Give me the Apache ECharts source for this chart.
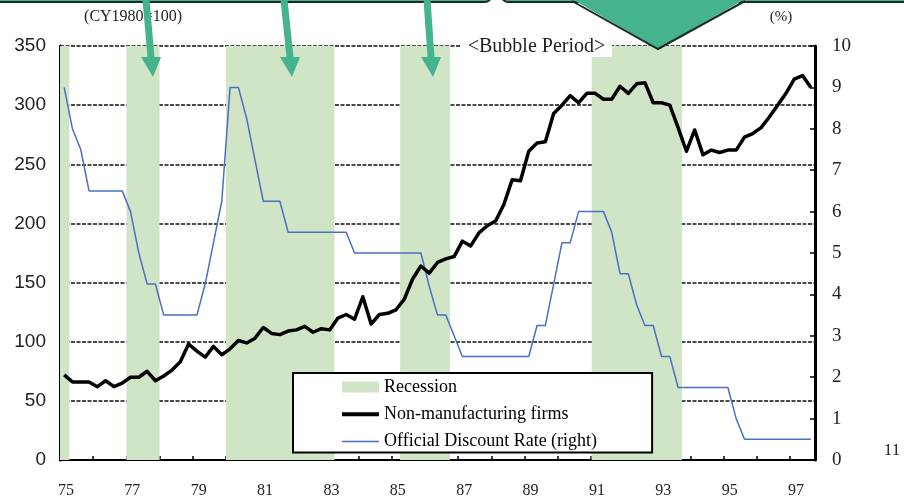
<!DOCTYPE html>
<html>
<head>
<meta charset="utf-8">
<script src="https://cdn.jsdelivr.net/npm/echarts@6/dist/echarts.min.js"></script>
<style>
  html, body { margin: 0; padding: 0; background: #fff; }
  #chart { width: 904px; height: 499px; }
</style>
</head>
<body>
<div id="chart"></div>
<script>
// quarterly data, 1975Q1 .. 1997Q3
var startYear = 1975

// Non-manufacturing firms (CY1980=100)
var nonManufacturing = [
  72, 66, 66, 66, 62, 67, 62, 65, 70, 70,
  75, 67, 71, 76, 83, 98, 92, 87, 96, 89,
  94, 101, 99, 103, 112, 107, 106, 109, 110, 113,
  108, 111, 110, 120, 123, 119, 138, 115, 123, 124,
  127, 136, 153, 164, 158, 167, 170, 172, 185, 181,
  192, 198, 202, 216, 237, 236, 261, 268, 269, 293,
  300, 308, 302, 310, 310, 305, 305, 316, 310, 318,
  319, 302, 302, 300, 281, 261, 279, 258, 262, 260,
  262, 262, 273, 276, 281, 290, 300, 310, 322, 325, 315
]

// Official discount rate (%), right axis
var discountRate = [
  9.0, 8.0, 7.5, 6.5, 6.5, 6.5, 6.5, 6.5, 6.0, 5.0,
  4.25, 4.25, 3.5, 3.5, 3.5, 3.5, 3.5, 4.25, 5.25, 6.25,
  9.0, 9.0, 8.25, 7.25, 6.25, 6.25, 6.25, 5.5, 5.5, 5.5,
  5.5, 5.5, 5.5, 5.5, 5.5, 5.0, 5.0, 5.0, 5.0, 5.0,
  5.0, 5.0, 5.0, 5.0, 4.2, 3.5, 3.5, 3.0, 2.5, 2.5,
  2.5, 2.5, 2.5, 2.5, 2.5, 2.5, 2.5, 3.25, 3.25, 4.25,
  5.25, 5.25, 6.0, 6.0, 6.0, 6.0, 5.5, 4.5, 4.5, 3.75,
  3.25, 3.25, 2.5, 2.5, 1.75, 1.75, 1.75, 1.75, 1.75, 1.75,
  1.75, 1.0, 0.5, 0.5, 0.5, 0.5, 0.5, 0.5, 0.5, 0.5, 0.5
]

// recession periods (decimal years)
var recessions = [
  [1975.0, 1975.28],
  [1977.0, 1978.0],
  [1980.0, 1983.27],
  [1985.25, 1986.75],
  [1991.02, 1993.74]
]

var leftTicks = { min: 0, max: 350, interval: 50 }
var rightTicks = { min: 0, max: 10, interval: 1 }

var bandColor = '#d0e4c6'
var blue = '#4a6fc4'
var teal = '#45b38c'
var serif = 'Liberation Serif'

// quarter midpoints on the year axis
function toPairs(arr) {
  return arr.map(function (v, i) {
    return [startYear + (i + 0.5) / 4, v]
  })
}

function arrow(top, base, tip) {
  return {
    type: 'polygon',
    z: 20,
    shape: {
      points: [
        [top - 3.5, 0], [top + 3.5, 0], [base + 3.5, 57], [base + 10, 57],
        [tip, 77], [base - 10, 57], [base - 3.5, 57]
      ]
    },
    style: { fill: teal }
  }
}

var chart = echarts.init(document.getElementById('chart'))

var option = {
  animation: false,
  grid: { left: 60, right: 89, top: 46, bottom: 38 },
  legend: {
    orient: 'vertical',
    left: 293,
    top: 373,
    padding: [5, 55, 2, 49],
    itemGap: 9.2,
    itemWidth: 37,
    itemHeight: 11,
    borderColor: '#000',
    borderWidth: 2,
    backgroundColor: '#fff',
    textStyle: { fontFamily: serif, fontSize: 18, color: '#000' },
    data: [
      { name: 'Recession', icon: 'rect' },
      { name: 'Non-manufacturing firms', icon: 'path://M0,0H37V4H0Z' },
      { name: 'Official Discount Rate (right)', icon: 'path://M0,0H37V1.5H0Z' }
    ]
  },
  xAxis: {
    type: 'value',
    min: 1975,
    max: 1997.75,
    interval: 1,
    axisLine: { lineStyle: { color: '#000', width: 2 } },
    axisTick: { inside: true, length: 4, lineStyle: { color: '#000', width: 1.5 } },
    axisLabel: {
      formatter: function (v) {
        return v % 2 === 1 ? String(v).slice(2) : ''
      },
      fontFamily: serif,
      fontSize: 16,
      color: '#222',
      margin: 23,
      padding: [0, 0, 0, 12]
    },
    splitLine: { show: false }
  },
  yAxis: [
    {
      type: 'value',
      position: 'left',
      min: leftTicks.min,
      max: leftTicks.max,
      interval: leftTicks.interval,
      axisLine: { show: true, lineStyle: { color: '#000', width: 3 } },
      axisTick: { show: false },
      axisLabel: { fontFamily: 'Liberation Sans', fontSize: 19, color: '#222', margin: 14 },
      splitLine: { show: true, lineStyle: { color: '#111', width: 1.5, type: [4, 1.5] } }
    },
    {
      type: 'value',
      position: 'right',
      min: rightTicks.min,
      max: rightTicks.max,
      interval: rightTicks.interval,
      axisLine: { show: true, lineStyle: { color: '#000', width: 3 } },
      axisTick: { show: true, inside: true, length: 5, lineStyle: { color: '#000', width: 1.5 } },
      axisLabel: { fontFamily: serif, fontSize: 19, color: '#222', margin: 17 },
      splitLine: { show: false }
    }
  ],
  series: [
    {
      name: 'Recession',
      type: 'bar',
      data: [],
      z: 1,
      itemStyle: { color: bandColor },
      markArea: {
        silent: true,
        itemStyle: { color: bandColor, opacity: 1 },
        data: recessions.map(function (r) {
          return [{ xAxis: r[0] }, { xAxis: r[1] }]
        })
      }
    },
    {
      name: 'Official Discount Rate (right)',
      type: 'line',
      yAxisIndex: 1,
      data: toPairs(discountRate),
      symbol: 'none',
      z: 3,
      lineStyle: { color: blue, width: 1.5 },
      itemStyle: { color: blue }
    },
    {
      name: 'Non-manufacturing firms',
      type: 'line',
      yAxisIndex: 0,
      data: toPairs(nonManufacturing),
      symbol: 'none',
      z: 4,
      lineStyle: { color: '#000', width: 3.5, join: 'round' },
      itemStyle: { color: '#000' }
    }
  ],
  graphic: [
    // slide boxes at the top edge
    {
      type: 'rect', z: 15,
      shape: { x: -10, y: -30, width: 501, height: 32, r: 6 },
      style: { fill: teal, stroke: '#1e2a25', lineWidth: 2 }
    },
    {
      type: 'rect', z: 15,
      shape: { x: 502, y: -30, width: 412, height: 32, r: 6 },
      style: { fill: teal, stroke: '#1e2a25', lineWidth: 2 }
    },
    {
      type: 'polygon', z: 16,
      shape: { points: [[572, -1], [745, -1], [658, 49]] },
      style: { fill: teal }
    },
    {
      type: 'polyline', z: 17,
      shape: { points: [[572, 1], [658, 49], [745, 1]] },
      style: { stroke: '#1e2a25', lineWidth: 2, fill: null }
    },
    arrow(146, 151, 153),
    arrow(284, 290, 292),
    arrow(427, 431, 433),
    {
      type: 'text', z: 10, x: 133, y: 17,
      style: { text: '(CY1980=100)', font: '16px "Liberation Serif"', fill: '#222', textAlign: 'center', textVerticalAlign: 'middle' }
    },
    {
      type: 'text', z: 10, x: 781, y: 17,
      style: { text: '(%)', font: '15px "Liberation Serif"', fill: '#222', textAlign: 'center', textVerticalAlign: 'middle' }
    },
    {
      type: 'text', z: 10, x: 892, y: 451,
      style: { text: '11', font: '17px "Liberation Serif"', fill: '#222', textAlign: 'center', textVerticalAlign: 'middle' }
    },
    {
      type: 'rect', z: 10,
      shape: { x: 461, y: 36, width: 151, height: 21 },
      style: { fill: '#fff' }
    },
    {
      type: 'text', z: 11, x: 536.5, y: 46.5,
      style: { text: '<Bubble Period>', font: '20px "Liberation Serif"', fill: '#222', textAlign: 'center', textVerticalAlign: 'middle' }
    }
  ]
}

chart.setOption(option)
</script>
</body>
</html>
